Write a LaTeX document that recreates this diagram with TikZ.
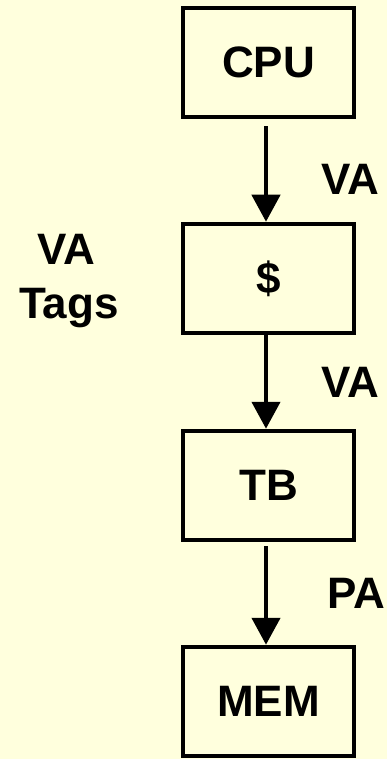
\documentclass[tikz,border=0pt]{standalone}
\usepackage{fontspec}
\setmainfont{Liberation Sans}
\usetikzlibrary{arrows.meta}
\definecolor{paper}{RGB}{255,255,221}
\tikzset{
  unitbox/.style={draw=black, line width=4.5pt, fill=paper,
    minimum width=171pt, minimum height=109pt, inner sep=0pt,
    font=\fontsize{44}{52}\selectfont\bfseries},
  flow/.style={line width=4.5pt, -{Triangle[width=28pt,length=27pt]}},
  lbl/.style={inner sep=0pt, anchor=base, font=\fontsize{44}{52}\selectfont\bfseries}
}
\begin{document}
\begin{tikzpicture}[x=1pt, y=-1pt]
  \fill[paper] (0,0) rectangle (387,759);
  \useasboundingbox (0,0) rectangle (387,759);

  % the four stages of the memory path
  \node[unitbox] (cpu)   at (268.5,62.5)  {CPU};
  \node[unitbox] (cache) at (268.5,278.5) {\$};
  \node[unitbox] (tb)    at (268.5,485.5) {TB};
  \node[unitbox] (mem)   at (268.5,701.5) {MEM};

  % connectors between stages
  \draw[flow, shorten <=7pt] ([xshift=-2.5pt]cpu.south) -- ([xshift=-2.5pt]cache.north);
  \draw[flow] ([xshift=-2.5pt]cache.south) -- ([xshift=-2.5pt]tb.north);
  \draw[flow, shorten <=4pt] ([xshift=-2.5pt]tb.south) -- ([xshift=-2.5pt]mem.north);

  % address labels beside the connectors
  \node[lbl] (va1) at (350,195) {VA};
  \node[lbl] (va2) at (350,397) {VA};
  \node[lbl] (pa)  at (356,608) {PA};

  % tag annotation for the cache
  \node[lbl] (tagva) at (66,264) {VA};
  \node[lbl] (tagtx) at (69,318) {Tags};
\end{tikzpicture}
\end{document}
